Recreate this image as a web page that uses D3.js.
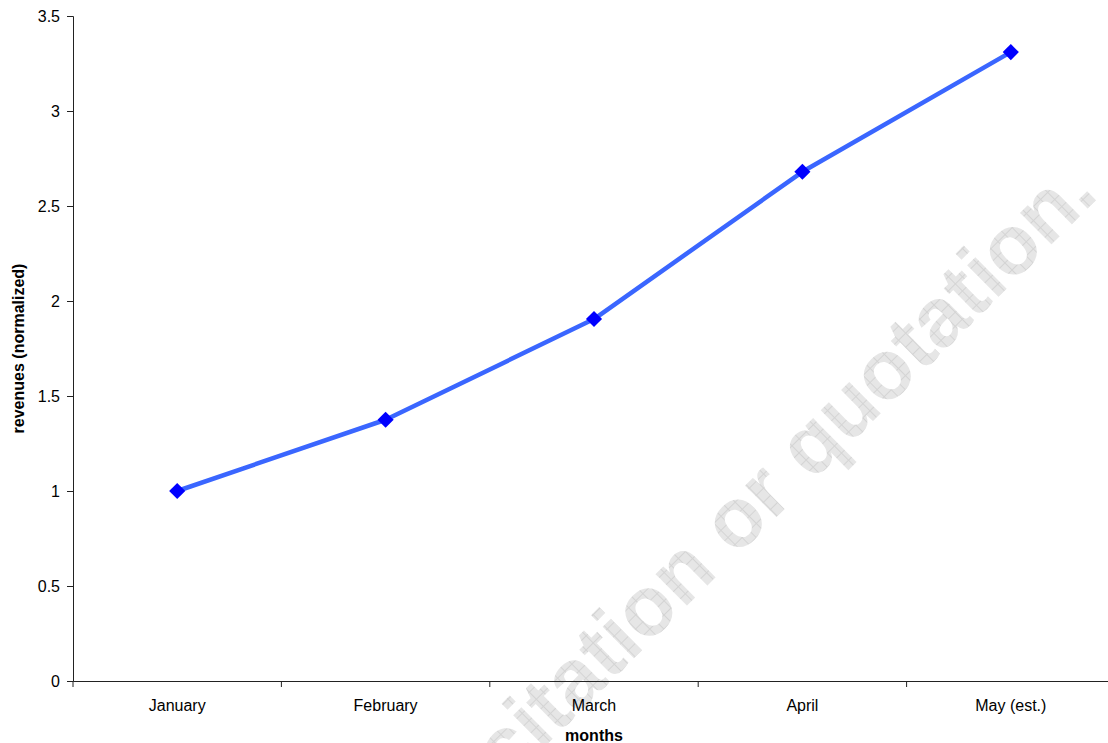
<!DOCTYPE html>
<html>
<head>
<meta charset="utf-8">
<script src="https://cdn.jsdelivr.net/npm/d3@7"></script>
<style>
    body { margin: 0; background: #fff; }
    svg { display: block; font-family: "Liberation Sans", Arial, sans-serif; }
</style>
</head>
<body>
<div class="chart"></div>
<script>
const months = ["January", "February", "March", "April", "May (est.)"];
const revenues = [1.0, 1.375, 1.905, 2.68, 3.31];
const yTicks = [0, 0.5, 1, 1.5, 2, 2.5, 3, 3.5];

const width = 1108;
const height = 743;
const margin = { top: 16, right: -7, bottom: 62, left: 73 };

const svg = d3.select(".chart")
    .append("svg")
    .attr("width", width)
    .attr("height", height);

// hatched watermark fill
const defs = svg.append("defs");
const pat = defs.append("pattern")
    .attr("id", "hatch")
    .attr("patternUnits", "userSpaceOnUse")
    .attr("width", 10)
    .attr("height", 10);
pat.append("rect").attr("width", 10).attr("height", 10).attr("fill", "#e6e6e6");
pat.append("path")
    .attr("d", "M0,0.5H10M0.5,0V10")
    .attr("stroke", "#d4d4d4")
    .attr("stroke-width", 1);

svg.append("text")
    .attr("transform", "translate(507,784) rotate(-44.75)")
    .attr("font-size", 84)
    .attr("font-weight", "bold")
    .attr("fill", "url(#hatch)")
    .text("citation or quotation.");

const x = d3.scaleBand()
    .domain(months)
    .range([margin.left, width - margin.right]);

const y = d3.scaleLinear()
    .domain([0, 3.5])
    .range([height - margin.bottom, margin.top]);

const xAxis = svg.append("g")
    .attr("transform", `translate(0,${height - margin.bottom})`)
    .call(d3.axisBottom(x).tickSize(0).tickPadding(19));
xAxis.select(".domain").attr("stroke", "#222");
xAxis.selectAll("text").attr("font-size", 16).attr("fill", "#000");

// tick marks between categories
svg.append("g")
    .selectAll("line")
    .data(months)
    .join("line")
    .attr("x1", d => x(d))
    .attr("x2", d => x(d))
    .attr("y1", height - margin.bottom)
    .attr("y2", height - margin.bottom + 6)
    .attr("stroke", "#222");

const yAxis = svg.append("g")
    .attr("transform", `translate(${margin.left},0)`)
    .call(d3.axisLeft(y).tickValues(yTicks).tickFormat(d3.format("")).tickSizeOuter(0).tickSize(6).tickPadding(7));
yAxis.select(".domain").attr("stroke", "#222");
yAxis.selectAll(".tick line").attr("stroke", "#222");
yAxis.selectAll("text").attr("font-size", 16).attr("fill", "#000");

const cx = d => x(d) + x.bandwidth() / 2;

const line = d3.line()
    .x((d, i) => cx(months[i]))
    .y(d => y(d));

svg.append("path")
    .datum(revenues)
    .attr("d", line)
    .attr("fill", "none")
    .attr("stroke", "#3a66ff")
    .attr("stroke-width", 4.5)
    .attr("stroke-linejoin", "round");

svg.append("g")
    .selectAll("path")
    .data(revenues)
    .join("path")
    .attr("d", d3.symbol(d3.symbolSquare, 130))
    .attr("transform", (d, i) => `translate(${cx(months[i])},${y(d)}) rotate(45)`)
    .attr("fill", "#0000ff");

svg.append("text")
    .attr("x", 594)
    .attr("y", 741)
    .attr("text-anchor", "middle")
    .attr("font-size", 16)
    .attr("font-weight", "bold")
    .text("months");

svg.append("text")
    .attr("transform", `translate(24,${(y(0) + y(3.5)) / 2}) rotate(-90)`)
    .attr("text-anchor", "middle")
    .attr("font-size", 16)
    .attr("font-weight", "bold")
    .text("revenues (normalized)");
</script>
</body>
</html>
